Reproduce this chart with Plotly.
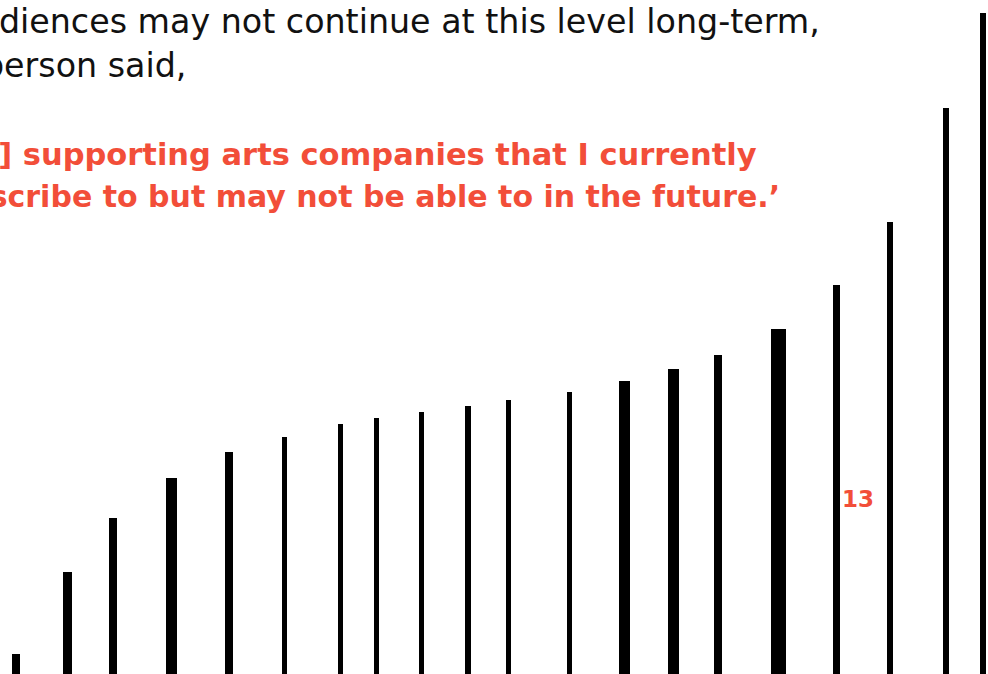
import plotly.graph_objects as go

# Bar data (bars run off the bottom of the view)
bar_pos = [16, 67, 113, 171, 229, 284, 340, 376, 421, 468, 508, 569, 624, 673, 718, 778, 836, 890, 946, 983]
bar_values = [20, 102, 156, 196, 222, 237, 250, 256, 262, 268, 274, 282, 293, 305, 319, 345, 389, 452, 566, 661]
highlight_label = "13"

# Text
black_lines = [
    "Audiences may not continue at this level long-term,",
    "a person said,",
]
red_lines = [
    "‘[I’m] supporting arts companies that I currently",
    "subscribe to but may not be able to in the future.’",
]

# Styling
bar_widths = [8, 9, 8, 11, 8, 5, 5, 5, 5, 6, 5, 5, 11, 11, 8, 15, 7, 6, 6, 6]
W, H = 988, 674
RED = "#F24E39"
FONT = "DejaVu Sans"

fig = go.Figure()
fig.add_trace(go.Bar(
    x=bar_pos, y=bar_values, width=bar_widths,
    marker=dict(color="black", line=dict(width=0)),
    hoverinfo="skip", showlegend=False,
))

def px(x):
    return x / W

def py(y):
    return 1 - y / H

annos = []
black_right = [822, 188]
black_y = [21, 65]
for t, xr, yc in zip(black_lines, black_right, black_y):
    annos.append(dict(text=t, x=px(xr), y=py(yc), xref="paper", yref="paper",
                      xanchor="right", yanchor="middle", showarrow=False,
                      font=dict(family=FONT, size=33.3, color="#111111")))
red_right = [759, 782]
red_sizes = [30.5, 30.0]
red_y = [154, 196]
for t, xr, yc, fs in zip(red_lines, red_right, red_y, red_sizes):
    annos.append(dict(text="<b>" + t + "</b>", x=px(xr), y=py(yc), xref="paper", yref="paper",
                      xanchor="right", yanchor="middle", showarrow=False,
                      font=dict(family=FONT, size=fs, color=RED)))
annos.append(dict(text="<b>" + highlight_label + "</b>", x=bar_pos[16] + 4, y=H - 499,
                  xref="x", yref="y", xanchor="left", yanchor="middle", showarrow=False,
                  font=dict(family=FONT, size=23, color=RED)))

fig.update_layout(
    width=W, height=H,
    margin=dict(l=0, r=0, t=0, b=0),
    paper_bgcolor="white", plot_bgcolor="white",
    xaxis=dict(range=[0, W], visible=False, fixedrange=True),
    yaxis=dict(range=[0, H], visible=False, fixedrange=True),
    annotations=annos,
    bargap=0,
)
fig.write_html("out.html", config={"displayModeBar": False})
